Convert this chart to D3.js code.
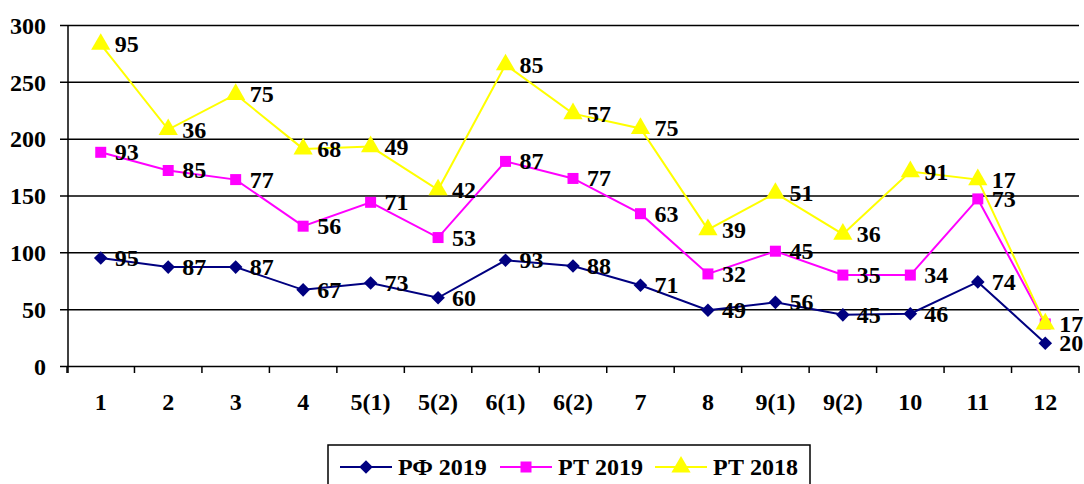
<!DOCTYPE html>
<html>
<head>
<meta charset="utf-8">
<script src="https://cdn.jsdelivr.net/npm/d3@7"></script>
<style>
  body { margin: 0; background: #fff; }
  svg { display: block; font-family: 'Liberation Serif', 'Times New Roman', serif; font-weight: bold; }
</style>
</head>
<body>
<div id="chart"></div>
<script>
// категории и значения (подписи = собственные значения, линии накоплены)
const categories = ['1', '2', '3', '4', '5(1)', '5(2)', '6(1)', '6(2)', '7', '8', '9(1)', '9(2)', '10', '11', '12'];
const rf2019 = [95, 87, 87, 67, 73, 60, 93, 88, 71, 49, 56, 45, 46, 74, 20];
const rt2019 = [93, 85, 77, 56, 71, 53, 87, 77, 63, 32, 45, 35, 34, 73, 17];
const rt2018 = [95, 36, 75, 68, 49, 42, 85, 57, 75, 39, 51, 36, 91, 17, 0];
const yTicks = [0, 50, 100, 150, 200, 250, 300];

const seriesNames = ['РФ 2019', 'РТ 2019', 'РТ 2018'];
const colors = ['#000080', '#ff00ff', '#ffff00'];
const symbols = [d3.symbolSquare, d3.symbolSquare, d3.symbolTriangle];
const symSizes = [92, 121, 160];
const symRotate = [45, 0, 0];

const width = 1084;
const height = 484;
const margin = { left: 68, right: 5, top: 25, bottom: 118 };
const fontSize = '24px';

const stack = d3.stack().keys([0, 1, 2]).value((d, k) => d[k]);
const rows = categories.map((c, i) => [rf2019[i], rt2019[i], rt2018[i]]);
const stacked = stack(rows);

const svg = d3.select('#chart')
  .append('svg')
  .attr('width', width)
  .attr('height', height);

const x = d3.scaleBand()
  .domain(categories)
  .range([margin.left - 1, width - margin.right]);

const y = d3.scaleLinear()
  .domain([0, 300])
  .range([height - margin.bottom, margin.top]);

// сетка и ось Y
const yAxis = svg.append('g')
  .attr('transform', `translate(${margin.left},0)`)
  .call(d3.axisLeft(y).tickValues(yTicks)
    .tickSizeInner(-(width - margin.right - margin.left)));
yAxis.select('.domain').remove();
yAxis.selectAll('line').attr('stroke', '#000').attr('stroke-width', 1.5).attr('x1', -8);
yAxis.selectAll('text')
  .attr('x', -22)
  .attr('dy', '0.34em')
  .attr('fill', '#000')
  .style('font-size', fontSize)
  .style('font-weight', 'bold')
  .style('font-family', "'Liberation Serif', serif");

svg.append('line')
  .attr('x1', margin.left).attr('x2', margin.left)
  .attr('y1', margin.top).attr('y2', y(0) + 7)
  .attr('stroke', '#000').attr('stroke-width', 1.5);

// ось X
const xAxis = svg.append('g')
  .attr('transform', `translate(0,${y(0)})`)
  .call(d3.axisBottom(x).tickSize(0));
xAxis.select('.domain').remove();
xAxis.selectAll('text')
  .attr('y', 44)
  .attr('dy', 0)
  .attr('fill', '#000')
  .style('font-size', fontSize)
  .style('font-weight', 'bold')
  .style('font-family', "'Liberation Serif', serif");

svg.append('g')
  .selectAll('line')
  .data(categories.concat(['end']))
  .join('line')
  .attr('x1', (d, i) => i < categories.length ? x(d) : x.range()[1])
  .attr('x2', (d, i) => i < categories.length ? x(d) : x.range()[1])
  .attr('y1', y(0))
  .attr('y2', y(0) + 7)
  .attr('stroke', '#000')
  .attr('stroke-width', 1.5);

const cx = (i) => x(categories[i]) + x.bandwidth() / 2;

const line = d3.line()
  .x((d, i) => cx(i))
  .y((d) => y(d[1]));

stacked.forEach((s, k) => {
  svg.append('path')
    .datum(s)
    .attr('d', line)
    .attr('fill', 'none')
    .attr('stroke', colors[k])
    .attr('stroke-width', 2);
});

stacked.forEach((s, k) => {
  const g = svg.append('g');
  g.selectAll('path')
    .data(s)
    .join('path')
    .attr('d', d3.symbol(symbols[k], symSizes[k]))
    .attr('transform', (d, i) => `translate(${cx(i)},${y(d[1])}) rotate(${symRotate[k]})`)
    .attr('fill', colors[k]);
  g.selectAll('text')
    .data(s.map((d, i) => ({ d, i })).filter((o) => o.d.data[k] > 0))
    .join('text')
    .attr('x', (o) => cx(o.i) + 14)
    .attr('y', (o) => y(o.d[1]) + 8)
    .attr('fill', '#000')
    .style('font-size', fontSize)
    .text((o) => o.d.data[k]);
});

// легенда
const legend = svg.append('g');
legend.append('rect')
  .attr('x', 328).attr('y', 445)
  .attr('width', 482).attr('height', 50)
  .attr('fill', '#fff')
  .attr('stroke', '#000')
  .attr('stroke-width', 1.5);

const legendX = [340, 500, 655];
seriesNames.forEach((name, k) => {
  const lx = legendX[k];
  legend.append('line')
    .attr('x1', lx).attr('x2', lx + 52)
    .attr('y1', 467).attr('y2', 467)
    .attr('stroke', colors[k]).attr('stroke-width', 2);
  legend.append('path')
    .attr('d', d3.symbol(symbols[k], symSizes[k]))
    .attr('transform', `translate(${lx + 26},467) rotate(${symRotate[k]})`)
    .attr('fill', colors[k]);
  legend.append('text')
    .attr('x', lx + 58)
    .attr('y', 475)
    .attr('fill', '#000')
    .style('font-size', fontSize)
    .text(name);
});
</script>
</body>
</html>
